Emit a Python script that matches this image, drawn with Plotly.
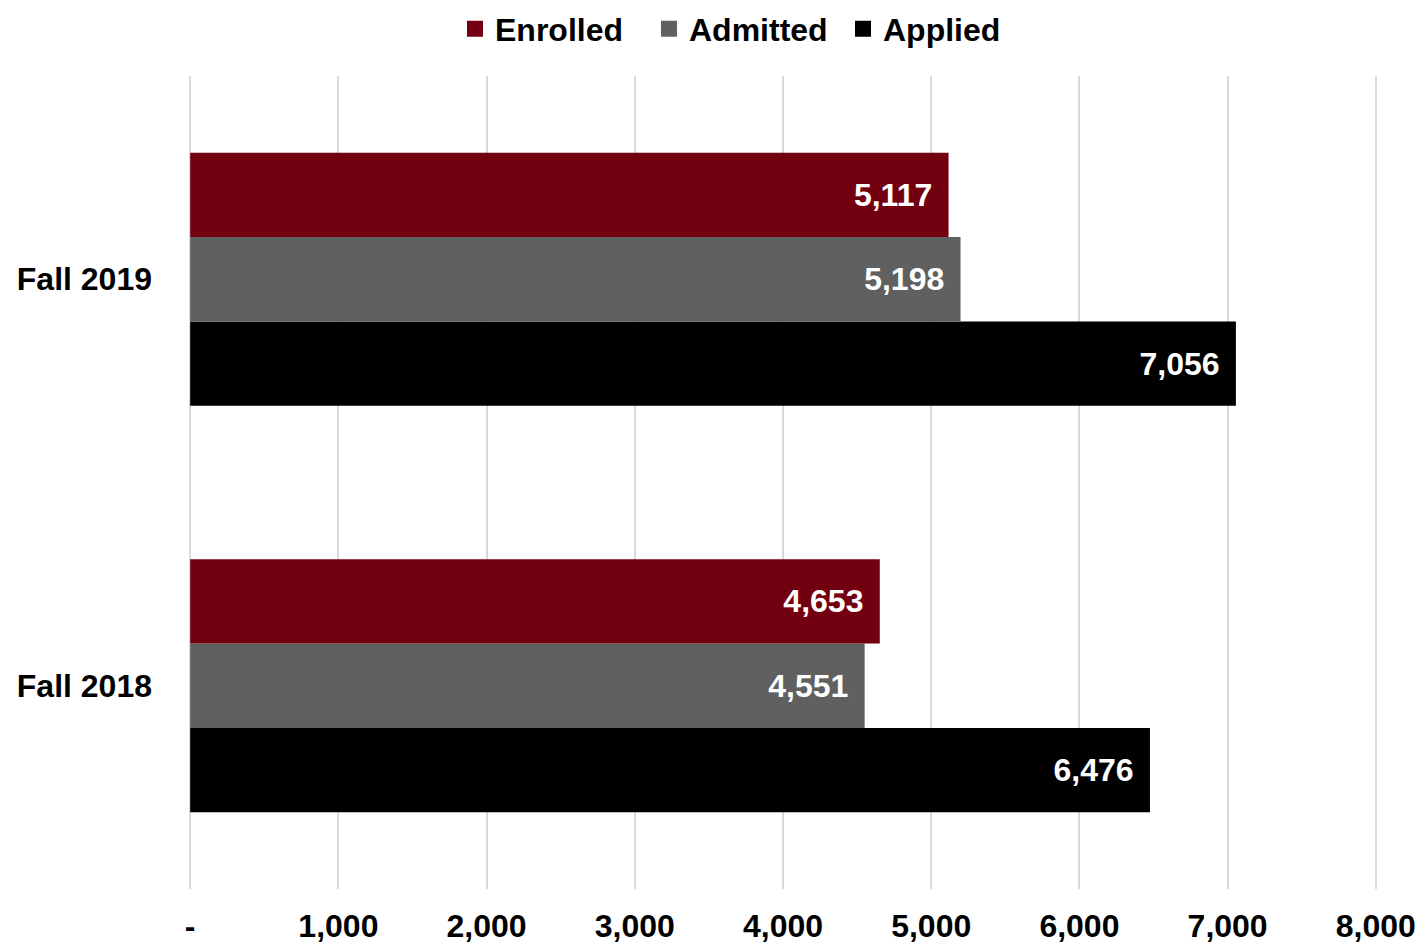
import plotly.graph_objects as go

categories = ["Fall 2018", "Fall 2019"]
enrolled = [4653, 5117]
admitted = [4551, 5198]
applied = [6476, 7056]
tick_vals = [0, 1000, 2000, 3000, 4000, 5000, 6000, 7000, 8000]
tick_text = ["-", "1,000", "2,000", "3,000", "4,000", "5,000", "6,000", "7,000", "8,000"]

series = [
    ("Applied", applied, "#000000", 3),
    ("Admitted", admitted, "#606060", 2),
    ("Enrolled", enrolled, "#720010", 1),
]

FONT = "Liberation Sans, Arial"
FS = 32
W, H = 1425, 946

fig = go.Figure()
for name, vals, color, rank in series:
    fig.add_trace(go.Bar(
        y=categories, x=vals, name=name, orientation="h",
        marker=dict(color=color, line=dict(width=0)),
        text=[f"{v:,}\u2005\u2006" for v in vals],
        textposition="inside", insidetextanchor="end",
        textfont=dict(family=FONT, size=FS, color="white", weight="bold"),
        showlegend=False,
    ))
# legend entries with larger square swatches
for name, vals, color, rank in series:
    fig.add_trace(go.Scatter(
        x=[None], y=[None], mode="markers", name=name,
        marker=dict(symbol="square", size=17, color=color),
        legendrank=rank, hoverinfo="skip",
    ))

T, B = 68, 65
fig.update_layout(
    width=W, height=H,
    paper_bgcolor="white", plot_bgcolor="white",
    barmode="group", bargap=0.377, bargroupgap=0,
    margin=dict(l=181, r=56, t=T, b=B),
    font=dict(family=FONT, size=FS, color="black"),
    legend=dict(orientation="h", xref="container", yref="container",
                x=447 / W, xanchor="left",
                y=1 - 21 / H, yanchor="middle",
                font=dict(size=FS, weight="bold"),
                itemwidth=30, entrywidth=149, entrywidthmode="pixels",
                itemsizing="trace"),
)
fig.update_xaxes(range=[-8, 8008], tickvals=tick_vals, ticktext=tick_text,
                 showgrid=True, gridcolor="#d9d9d9", gridwidth=2,
                 zeroline=False, showline=False, automargin=False,
                 tickfont=dict(size=FS, weight="bold"), ticklabelstandoff=15)
fig.update_yaxes(range=[-0.5, 1.5], showgrid=False, zeroline=False, showline=False,
                 automargin=False,
                 tickfont=dict(size=FS, weight="bold"), ticklabelstandoff=36)

fig.write_html("out.html")
